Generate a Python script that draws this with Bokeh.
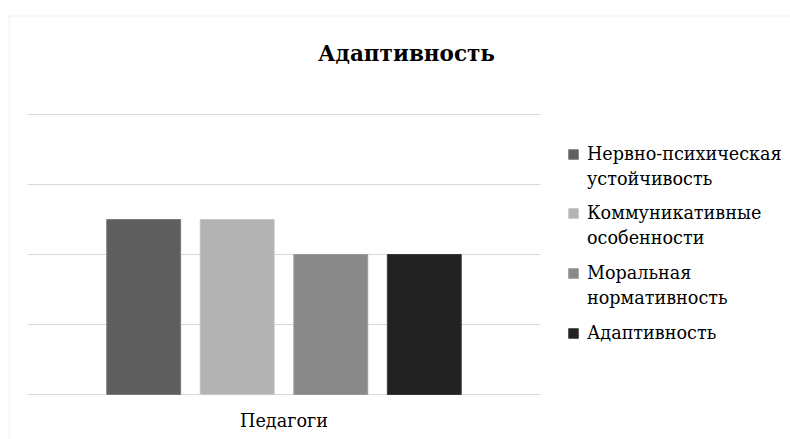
from bokeh.plotting import figure
from bokeh.models import (Range1d, Legend, LegendItem, Label, BoxAnnotation,
                          ColumnDataSource)
from bokeh.core.properties import value
from bokeh.embed import file_html
from bokeh.resources import INLINE

title_text = "Адаптивность"
categories = ["Педагоги"]
series_names = [
    ["Нервно-психическая", "устойчивость"],
    ["Коммуникативные", "особенности"],
    ["Моральная", "нормативность"],
    ["Адаптивность"],
]
series_values = [2.5, 2.5, 2.0, 2.0]
y_ticks = [0, 1, 2, 3, 4]

colors = ["#5f5f5f", "#b3b3b3", "#898989", "#222222"]
edges = ["#7a7a7a", "#c4c4c4", "#9a9a9a", "#3a3a3a"]
offsets = [-0.2735, -0.0912, 0.0912, 0.2735]
FONT = "DejaVu Serif"

W, H = 790, 439
px_per_x = 513.0
px_per_y = 70.0
x_range = Range1d(-0.5 - 27 / px_per_x, 0.5 + (W - 540) / px_per_x)
y_range = Range1d(-(H - 394) / px_per_y, 4 + 114 / px_per_y)

p = figure(width=W, height=H, output_backend="svg", toolbar_location=None,
           x_range=x_range, y_range=y_range, x_axis_location=None,
           y_axis_location=None, min_border=0)
p.outline_line_color = None
p.grid.visible = False
p.background_fill_color = "white"
p.border_fill_color = "white"

n_cat = len(categories)
p.segment(x0=[-0.5] * len(y_ticks), x1=[n_cat - 0.5] * len(y_ticks), y0=y_ticks, y1=y_ticks,
          line_color="#d9d9d9", line_width=1)

renderers = []
for val, col, edge, off in zip(series_values, colors, edges, offsets):
    src = ColumnDataSource(dict(x=[i + off for i in range(n_cat)], val=[val]))
    r = p.vbar(x="x", top="val", bottom=0, width=0.144, source=src,
               fill_color=col, line_color=edge, line_width=1)
    renderers.append(r)

p.text(x=list(range(n_cat)), y=[0] * n_cat, text=categories, y_offset=16,
       text_align="center", text_baseline="top", text_font=value(FONT),
       text_font_size="17.6px", text_color="#000000")

ROW = 25
entry_tops = [141, 200, 260, 320]
for lines, r, top in zip(series_names, renderers, entry_tops):
    its = [LegendItem(label=lines[0], renderers=[r])]
    for extra in lines[1:]:
        its.append(LegendItem(label=extra, renderers=[]))
    bottom = top + ROW * len(lines)
    lg = Legend(items=its, location=(567, H - bottom), padding=0, margin=0,
                border_line_color=None, background_fill_alpha=0,
                glyph_width=12, glyph_height=12, label_standoff=8, label_height=ROW,
                label_text_font=FONT, label_text_font_size="17.6px",
                label_text_line_height=1.2, spacing=0, label_text_color="#000000")
    p.add_layout(lg)

p.add_layout(Label(x=406, y=53, x_units="canvas", y_units="canvas", text=title_text,
                   text_align="center", text_baseline="alphabetic", text_font=FONT,
                   text_font_size="21.5px", text_font_style="bold", text_color="#000000"))

p.add_layout(BoxAnnotation(left=8.5, right=3000, top=15.5, bottom=3000,
                           left_units="canvas", right_units="canvas",
                           top_units="canvas", bottom_units="canvas",
                           fill_alpha=0, line_color="#d0d0d0", line_width=1))

open("out.html", "w").write(file_html(p, INLINE))
